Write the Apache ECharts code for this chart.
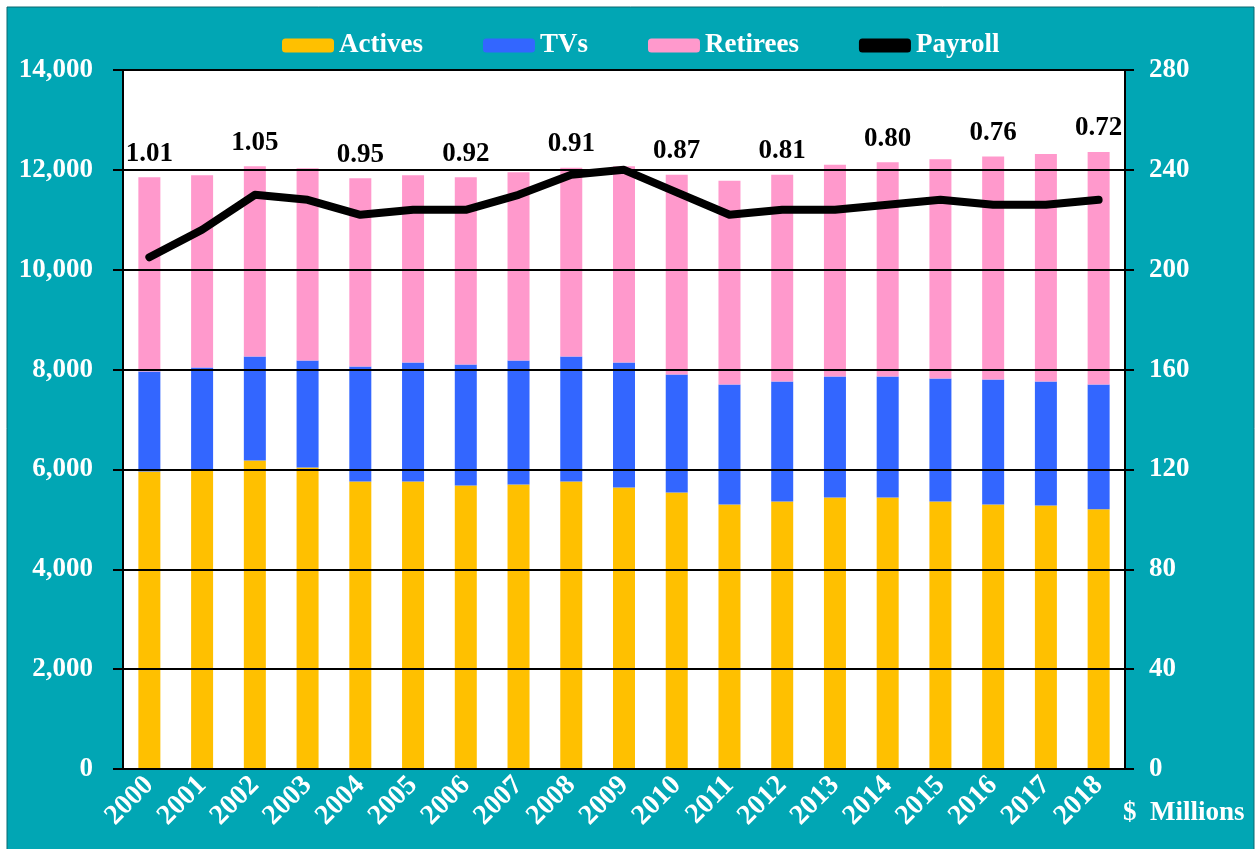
<!DOCTYPE html>
<html>
<head>
    <meta charset="utf-8"/>
    <title>Actives, TVs, Retirees and Payroll</title>
    <script src="https://cdn.jsdelivr.net/npm/echarts@6/dist/echarts.min.js"></script>
    <style>
        body { margin: 0; background: #fff; }
        #main { width: 1260px; height: 849px; }
    </style>
</head>
<body>
<div id="main"></div>
<script type="text/javascript">
    // 数据
    var years = ['2000', '2001', '2002', '2003', '2004', '2005', '2006', '2007', '2008', '2009',
        '2010', '2011', '2012', '2013', '2014', '2015', '2016', '2017', '2018'];
    var actives = [5960, 5980, 6180, 6040, 5760, 5760, 5680, 5700, 5760, 5640,
        5540, 5300, 5360, 5440, 5440, 5360, 5300, 5280, 5200];
    var tvs = [2000, 2060, 2080, 2140, 2300, 2380, 2420, 2480, 2500, 2500,
        2360, 2400, 2400, 2420, 2420, 2460, 2500, 2480, 2500];
    var retirees = [3890, 3850, 3810, 3850, 3770, 3750, 3750, 3770, 3780, 3930,
        4000, 4080, 4140, 4240, 4290, 4390, 4470, 4560, 4660];
    var payroll = [205, 216, 230, 228, 222, 224, 224, 230, 238, 240,
        231, 222, 224, 224, 226, 228, 226, 226, 228];
    var ratios = [1.01, null, 1.05, null, 0.95, null, 0.92, null, 0.91, null,
        0.87, null, 0.81, null, 0.80, null, 0.76, null, 0.72];

    var font = "'Liberation Serif', 'Times New Roman', serif";
    var txt = {color: '#fff', fontFamily: font, fontWeight: 'bold', fontSize: 27};

    var myChart = echarts.init(document.getElementById('main'));

    var option = {
        backgroundColor: '#fff',
        animation: false,
        graphic: [{
            type: 'rect',
            z: -100,
            silent: true,
            shape: {x: 7, y: 7, width: 1247, height: 845},
            style: {fill: '#01A6B4', stroke: '#0a6870', lineWidth: 1}
        }],
        title: {
            text: '$  Millions',
            left: 1118,
            top: 795,
            textStyle: txt
        },
        legend: {
            left: 277,
            top: 27,
            itemWidth: 52,
            itemHeight: 14,
            itemGap: 60,
            textStyle: txt,
            data: ['Actives', 'TVs', 'Retirees', {name: 'Payroll', icon: 'roundRect'}]
        },
        grid: {
            left: 123,
            right: 135,
            top: 70,
            bottom: 80,
            show: true,
            backgroundColor: '#fff',
            borderWidth: 0
        },
        xAxis: {
            type: 'category',
            data: years,
            axisLine: {lineStyle: {color: '#000', width: 2}},
            axisTick: {show: false},
            axisLabel: Object.assign({rotate: 45, margin: 12, interval: 0}, txt, {fontSize: 28})
        },
        yAxis: [{
            type: 'value',
            min: 0,
            max: 14000,
            interval: 2000,
            z: 10,
            axisLine: {show: true, lineStyle: {color: '#000', width: 2}},
            axisTick: {show: true, length: 10, lineStyle: {color: '#000', width: 2}},
            splitLine: {lineStyle: {color: '#000', width: 2}},
            axisLabel: Object.assign({
                margin: 30,
                formatter: function (v) {
                    return v.toLocaleString('en-US');
                }
            }, txt)
        }, {
            type: 'value',
            min: 0,
            max: 280,
            interval: 40,
            z: 10,
            axisLine: {show: true, lineStyle: {color: '#000', width: 2}},
            axisTick: {show: true, length: 9, lineStyle: {color: '#000', width: 2}},
            splitLine: {show: false},
            axisLabel: Object.assign({margin: 24}, txt)
        }],
        series: [
            {
                name: 'Actives',
                type: 'bar',
                stack: 'count',
                barWidth: 22,
                itemStyle: {color: '#FFC000'},
                data: actives
            },
            {
                name: 'TVs',
                type: 'bar',
                stack: 'count',
                itemStyle: {color: '#3366FF'},
                data: tvs
            },
            {
                name: 'Retirees',
                type: 'bar',
                stack: 'count',
                itemStyle: {color: '#FF99CC'},
                label: {
                    show: true,
                    position: 'top',
                    distance: 10,
                    color: '#000',
                    fontFamily: font,
                    fontWeight: 'bold',
                    fontSize: 27,
                    formatter: function (p) {
                        var r = ratios[p.dataIndex];
                        return r == null ? '' : r.toFixed(2);
                    }
                },
                data: retirees
            },
            {
                name: 'Payroll',
                type: 'line',
                yAxisIndex: 1,
                z: 20,
                symbol: 'none',
                lineStyle: {color: '#000', width: 8, cap: 'round', join: 'round'},
                itemStyle: {color: '#000'},
                data: payroll
            }
        ]
    };

    myChart.setOption(option);
</script>
</body>
</html>
